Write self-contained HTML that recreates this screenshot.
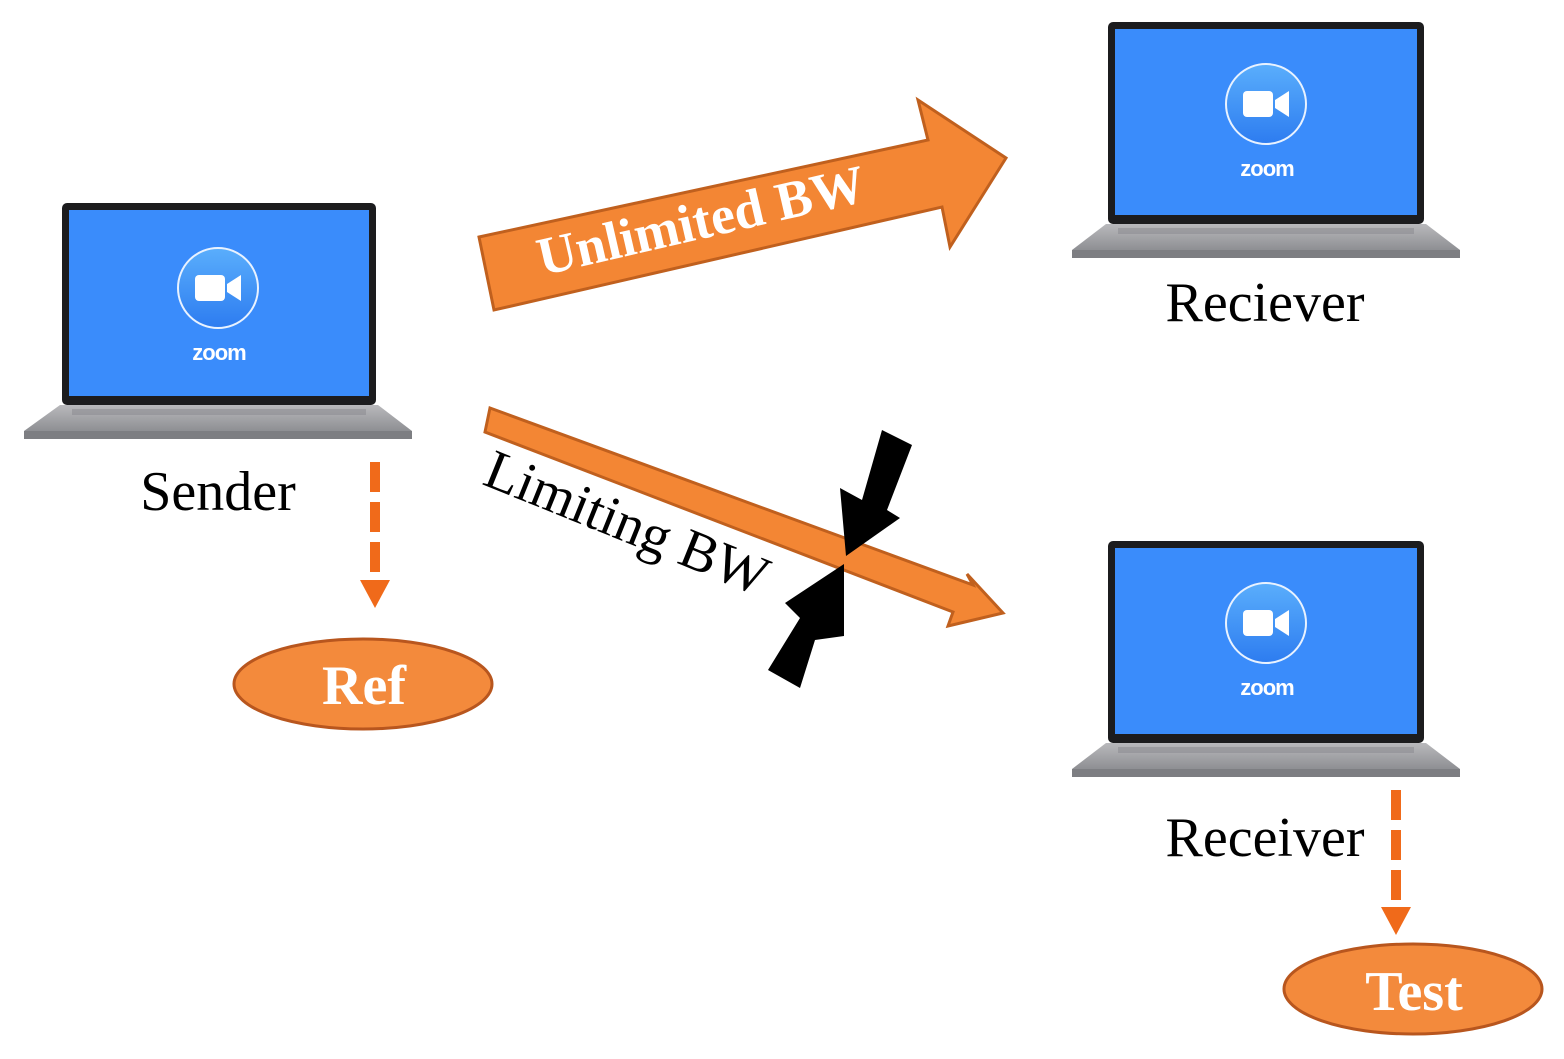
<!DOCTYPE html>
<html><head><meta charset="utf-8"><style>
html,body{margin:0;padding:0;background:#fff;width:1564px;height:1059px;overflow:hidden}
svg{display:block}
</style></head><body>
<svg width="1564" height="1059" viewBox="0 0 1564 1059" xmlns="http://www.w3.org/2000/svg">
<defs>
<linearGradient id="ic" x1="0" y1="0" x2="0" y2="1"><stop offset="0" stop-color="#5aaefc"/><stop offset="1" stop-color="#2d7cf0"/></linearGradient>
<linearGradient id="base" x1="0" y1="0" x2="0" y2="1"><stop offset="0" stop-color="#b9b9bc"/><stop offset="1" stop-color="#8e8f93"/></linearGradient>
</defs>

<g transform="translate(62,203)">
 <rect x="0" y="0" width="314" height="202" rx="5" fill="#1c1c1e"/>
 <rect x="7" y="7" width="300" height="186" fill="#3a8cfb"/>
 <polygon points="-2,202 316,202 350,228 -38,228" fill="url(#base)"/>
 <rect x="-38" y="228" width="388" height="8" fill="#7d7e82"/>
 <rect x="10" y="206" width="294" height="6" fill="#8d8e92" opacity="0.6"/>
 <circle cx="156" cy="85" r="40" fill="url(#ic)" stroke="#e8f2ff" stroke-width="2"/>
 <rect x="133" y="72" width="30" height="26" rx="4" fill="#fff"/>
 <polygon points="165,81 179,72 179,98 165,89" fill="#fff"/>
 <text x="157" y="157" font-family="Liberation Sans,sans-serif" font-weight="bold" font-size="22" fill="#fff" text-anchor="middle" letter-spacing="-1">zoom</text>
</g>
<g transform="translate(1108,22)">
 <rect x="0" y="0" width="316" height="202" rx="5" fill="#1c1c1e"/>
 <rect x="7" y="7" width="302" height="186" fill="#3a8cfb"/>
 <polygon points="-2,202 318,202 352,228 -36,228" fill="url(#base)"/>
 <rect x="-36" y="228" width="388" height="8" fill="#7d7e82"/>
 <rect x="10" y="206" width="296" height="6" fill="#8d8e92" opacity="0.6"/>
 <circle cx="158" cy="82" r="40" fill="url(#ic)" stroke="#e8f2ff" stroke-width="2"/>
 <rect x="135" y="69" width="30" height="26" rx="4" fill="#fff"/>
 <polygon points="167,78 181,69 181,95 167,86" fill="#fff"/>
 <text x="159" y="154" font-family="Liberation Sans,sans-serif" font-weight="bold" font-size="22" fill="#fff" text-anchor="middle" letter-spacing="-1">zoom</text>
</g>
<g transform="translate(1108,541)">
 <rect x="0" y="0" width="316" height="202" rx="5" fill="#1c1c1e"/>
 <rect x="7" y="7" width="302" height="186" fill="#3a8cfb"/>
 <polygon points="-2,202 318,202 352,228 -36,228" fill="url(#base)"/>
 <rect x="-36" y="228" width="388" height="8" fill="#7d7e82"/>
 <rect x="10" y="206" width="296" height="6" fill="#8d8e92" opacity="0.6"/>
 <circle cx="158" cy="82" r="40" fill="url(#ic)" stroke="#e8f2ff" stroke-width="2"/>
 <rect x="135" y="69" width="30" height="26" rx="4" fill="#fff"/>
 <polygon points="167,78 181,69 181,95 167,86" fill="#fff"/>
 <text x="159" y="154" font-family="Liberation Sans,sans-serif" font-weight="bold" font-size="22" fill="#fff" text-anchor="middle" letter-spacing="-1">zoom</text>
</g>

<g font-family="Liberation Serif,serif" font-size="56" fill="#000" text-anchor="middle">
 <text x="218" y="510">Sender</text>
 <text x="1265" y="321">Reciever</text>
 <text x="1265" y="856">Receiver</text>
</g>

<polygon points="479,237 928,140 918,100 1006,158 950,247 942,207 494,310" fill="#f38634" stroke="#c0601e" stroke-width="3"/>
<text transform="translate(705,238) rotate(-13)" font-family="Liberation Serif,serif" font-weight="bold" font-size="54" fill="#fff" text-anchor="middle">Unlimited BW</text>

<polygon points="490,408 973,585 967,574 1003,613 948,626 953,612 485,432" fill="#f38634" stroke="#c0601e" stroke-width="3"/>
<text transform="translate(620,540) rotate(22)" font-family="Liberation Serif,serif" font-size="56" fill="#000" text-anchor="middle">Limiting BW</text>

<polygon points="846,556 840,488 862,500 882,430 912,445 887,510 900,518" fill="#000"/>
<polygon points="844,564 785,603 800,618 768,670 800,688 815,640 844,636" fill="#000"/>

<line x1="375" y1="462" x2="375" y2="580" stroke="#f06a1a" stroke-width="10" stroke-dasharray="30,10"/>
<polygon points="360,580 390,580 375,608" fill="#f06a1a"/>
<line x1="1396" y1="790" x2="1396" y2="908" stroke="#f06a1a" stroke-width="10" stroke-dasharray="30,10"/>
<polygon points="1381,907 1411,907 1396,935" fill="#f06a1a"/>

<ellipse cx="363" cy="684" rx="129" ry="45" fill="#f38a3c" stroke="#b8561e" stroke-width="3"/>
<text x="364" y="704" font-family="Liberation Serif,serif" font-weight="bold" font-size="56" fill="#fff" text-anchor="middle">Ref</text>
<ellipse cx="1413" cy="989" rx="129" ry="45" fill="#f38a3c" stroke="#b8561e" stroke-width="3"/>
<text x="1414" y="1010" font-family="Liberation Serif,serif" font-weight="bold" font-size="56" fill="#fff" text-anchor="middle">Test</text>
</svg>
</body></html>
